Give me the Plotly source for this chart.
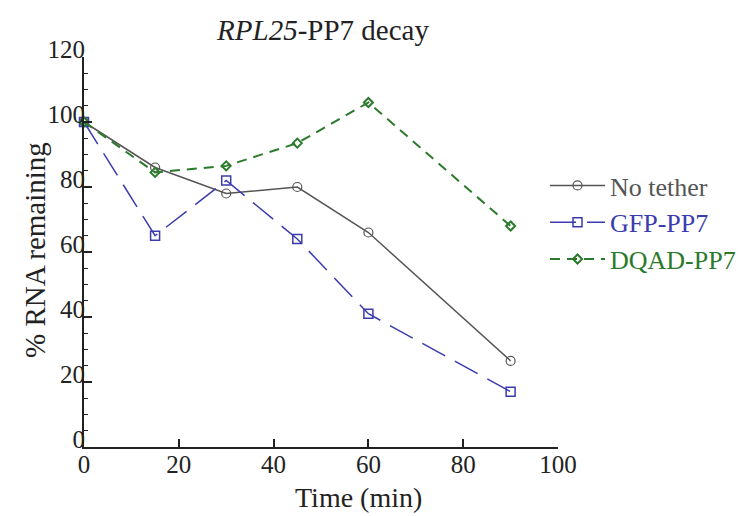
import plotly.graph_objects as go

time_min = [0, 15, 30, 45, 60, 90]
no_tether = [100, 86, 78, 80, 66, 26.5]
gfp_pp7 = [100, 65, 82, 64, 41, 17]
dqad_pp7 = [100, 84.5, 86.5, 93.5, 106, 68]

series_names = ["No tether", "GFP-PP7", "DQAD-PP7"]
colors = ["#555555", "#3b3bb0", "#2b7a2b"]
x_ticks = [0, 20, 40, 60, 80, 100]
y_ticks = [0, 20, 40, 60, 80, 100, 120]

FONT = "Liberation Serif, Times New Roman, serif"

# figure sits at (8, 8) in the page because of the body margin
W, H = 741, 508
L, R_EDGE, T, B_EDGE = 76, 550, 49, 439

fig = go.Figure()
fig.add_trace(go.Scatter(
    x=time_min, y=no_tether, mode="lines+markers",
    name=f"<span style='color:{colors[0]}'>{series_names[0]}</span>",
    line=dict(color=colors[0], width=1.5),
    marker=dict(symbol="circle-open", size=9, color=colors[0], line=dict(width=1.2)),
    cliponaxis=False,
))
fig.add_trace(go.Scatter(
    x=time_min, y=gfp_pp7, mode="lines+markers",
    name=f"<span style='color:{colors[1]}'>{series_names[1]}</span>",
    line=dict(color=colors[1], width=1.5, dash="26px,11px"),
    marker=dict(symbol="square-open", size=9, color=colors[1], line=dict(width=1.5)),
    cliponaxis=False,
))
fig.add_trace(go.Scatter(
    x=time_min, y=dqad_pp7, mode="lines+markers",
    name=f"<span style='color:{colors[2]}'>{series_names[2]}</span>",
    line=dict(color=colors[2], width=2, dash="10px,7px"),
    marker=dict(symbol="diamond-open", size=7, color=colors[2], line=dict(width=2)),
    cliponaxis=False,
))

fig.update_layout(
    width=W, height=H,
    margin=dict(l=L, r=W - R_EDGE, t=T, b=H - B_EDGE, autoexpand=False),
    paper_bgcolor="white", plot_bgcolor="white",
    font=dict(family=FONT, size=26, color="#222222"),
    title=dict(text="<i>RPL25</i>-PP7 decay", x=315 / W, xanchor="center",
               y=1 - 22 / H, yanchor="middle", font=dict(size=29, color="#222222")),
    showlegend=True,
    legend=dict(x=537 / W, xref="container", y=1 - 154 / H, yref="container",
                xanchor="left", yanchor="top", font=dict(size=26), itemwidth=55,
                tracegroupgap=0, bgcolor="rgba(0,0,0,0)"),
    xaxis=dict(range=[0, 100], tickvals=x_ticks, ticktext=[str(v) for v in x_ticks],
               ticks="inside", ticklen=8, tickwidth=1.5, tickcolor="#222",
               showline=True, linecolor="#222", linewidth=2, showgrid=False, zeroline=False,
               ticklabelstandoff=-6,
               tickfont=dict(size=25)),
    yaxis=dict(range=[0, 120], tickvals=y_ticks, ticktext=[str(v) for v in y_ticks],
               ticks="inside", ticklen=8, tickwidth=1.5, tickcolor="#222",
               showline=True, linecolor="#222", linewidth=2, showgrid=False, zeroline=False,
               ticklabelstandoff=-8, ticklabelshift=-8,
               minor=dict(dtick=5, ticks="inside", ticklen=4, tickwidth=1.2, tickcolor="#222",
                          showgrid=False),
               tickfont=dict(size=25)),
)

fig.add_annotation(text="% RNA remaining", xref="paper", yref="paper",
                   x=(27 - L) / (R_EDGE - L), y=(B_EDGE - 242) / (B_EDGE - T),
                   xanchor="center", yanchor="middle", textangle=-90,
                   showarrow=False, font=dict(size=29, color="#222222"))
fig.add_annotation(text="Time (min)", xref="paper", yref="paper",
                   x=(350 - L) / (R_EDGE - L), y=-(489 - B_EDGE) / (B_EDGE - T),
                   xanchor="center", yanchor="middle",
                   showarrow=False, font=dict(size=28, color="#222222"))

fig.write_html("out.html")
